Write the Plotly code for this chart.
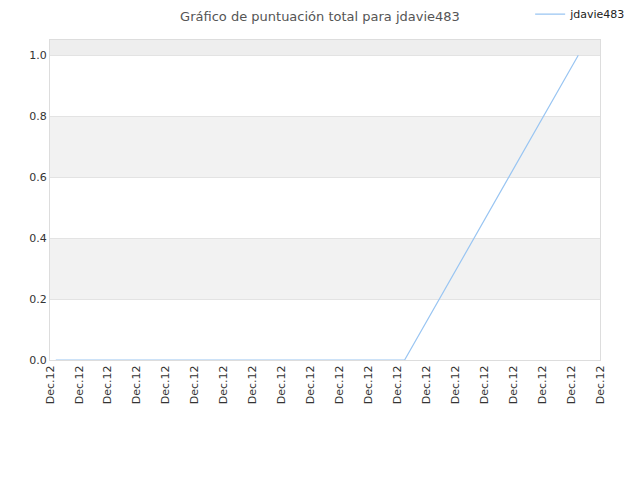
import plotly.graph_objects as go

# puntos de la serie (x en posiciones del eje, y puntuación)
x_vals = [0.2, 12.25, 18.25]
y_vals = [0.0, 0.0, 1.0]

tick_pos = list(range(0, 20))
tick_labels = ["Dec.12"] * 20

bands = [(0.2, 0.4, "#f2f2f2"), (0.6, 0.8, "#f2f2f2"), (1.0, 1.05, "#eeeeee")]

fig = go.Figure()
fig.add_trace(go.Scatter(x=x_vals, y=y_vals, name="jdavie483", mode="lines",
                         line=dict(color="#99c5f2", width=1.2)))

for y0, y1, c in bands:
    fig.add_shape(type="rect", xref="paper", yref="y", x0=0, x1=1, y0=y0, y1=y1,
                  fillcolor=c, line=dict(width=0), layer="below")

# la pagina tiene 8px de margen en el body, se compensa aqui
fig.update_layout(
    width=640, height=480,
    margin=dict(l=42, r=48, t=32, b=128, autoexpand=False),
    paper_bgcolor="white", plot_bgcolor="white",
    font=dict(family="DejaVu Sans", size=11, color="#333333"),
    title=dict(text="Gráfico de puntuación total para jdavie483", x=0.4875, xanchor="center",
               y=0.982, yanchor="middle", font=dict(size=13, color="#555555")),
    showlegend=True,
    legend=dict(x=0.873, y=1.081, xanchor="left", yanchor="middle", font=dict(size=11, color="#222222"),
                bgcolor="rgba(0,0,0,0)", itemwidth=30),
    xaxis=dict(range=[0, 19], tickvals=tick_pos, ticktext=tick_labels, tickangle=-90,
               showgrid=False, zeroline=False, showline=True, linecolor="#dddddd", mirror=True,
               ticks="", automargin=False, tickfont=dict(size=11, color="#333333")),
    yaxis=dict(range=[0, 1.05], tickvals=[0, 0.2, 0.4, 0.6, 0.8, 1.0],
               ticktext=["0.0", "0.2", "0.4", "0.6", "0.8", "1.0"],
               showgrid=True, gridcolor="#e3e3e3", zeroline=False, showline=True,
               linecolor="#dddddd", mirror=True, ticks="", automargin=False,
               tickfont=dict(size=11, color="#333333")),
)

fig.write_html("out.html")
